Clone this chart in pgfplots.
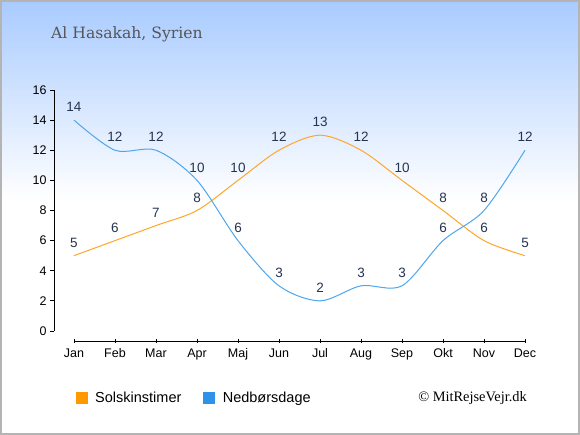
\documentclass[border=0pt]{standalone}
\usepackage{pgfplots}
\pgfplotsset{compat=1.18}
\usepackage{fontspec}
\setmainfont{Liberation Sans}
\newfontfamily\titlefont{DejaVu Serif}
\newfontfamily\copyfont{Liberation Serif}
\definecolor{bgtop}{RGB}{168,203,255}
\definecolor{sun}{RGB}{255,166,43}
\definecolor{sunsq}{RGB}{255,153,0}
\definecolor{rain}{RGB}{77,166,238}
\definecolor{rainsq}{RGB}{46,146,232}
\definecolor{lbl}{RGB}{37,52,80}
\definecolor{brd}{RGB}{180,180,180}
\definecolor{ttl}{RGB}{85,85,85}
\begin{document}
\begin{tikzpicture}[x=1bp,y=1bp]
\useasboundingbox (0,0) rectangle (580,435);
\fill[white] (0,0) rectangle (580,435);
\shade[top color=bgtop, bottom color=white] (0,235) rectangle (580,435);
\draw[brd, line width=2bp] (1,1) rectangle (579,434);
\node[anchor=base west, inner sep=0pt, font=\titlefont\fontsize{15.6bp}{18bp}\selectfont, text=ttl] at (51,396) {Al Hasakah, Syrien};
\node[anchor=base east, inner sep=0pt, font=\copyfont\fontsize{14.4bp}{16bp}\selectfont, text=black] at (527,33) {© MitRejseVejr.dk};
\begin{axis}[
  at={(74bp,104bp)}, anchor=south west, scale only axis,
  width=451bp, height=241bp,
  xmin=0, xmax=11, ymin=0, ymax=16,
  axis x line*=bottom, axis y line*=left,
  axis x line shift=10bp, axis y line shift=20bp,
  axis line style={black, line width=0.8bp},
  xtick={0,...,11},
  xticklabels={Jan,Feb,Mar,Apr,Maj,Jun,Jul,Aug,Sep,Okt,Nov,Dec},
  ytick={0,2,...,16},
  tick align=outside, major tick length=4bp,
  tick style={black, line width=0.8bp},
  xtick style={yshift=2bp},
  ticklabel style={font=\fontsize{12.5bp}{14bp}\selectfont},
  /pgf/number format/assume math mode=true,
  clip=false,
  nodes near coords,
  nodes near coords style={anchor=center, yshift=13bp, font=\fontsize{13.5bp}{16bp}\selectfont, text=lbl},
  legend image code/.code={\fill[#1] (0bp,-5.5bp) rectangle (11bp,5.5bp);},
  legend style={at={(0.004,-0.278)}, anchor=west, draw=none, fill=none, inner sep=0pt, outer sep=0pt,
    font=\fontsize{14.5bp}{16bp}\selectfont, legend columns=2,
    nodes={inner xsep=8bp},
    /tikz/every even column/.append style={column sep=14bp}},
  legend cell align=left,
]
\addplot[sun, line width=1bp, smooth, forget plot] coordinates {
 (0,5) (1,6) (2,7) (3,8) (4,10) (5,12) (6,13) (7,12) (8,10) (9,8) (10,6) (11,5)};
\addplot[rain, line width=1bp, smooth, forget plot] coordinates {
 (0,14) (1,12) (2,12) (3,10) (4,6) (5,3) (6,2) (7,3) (8,3) (9,6) (10,8) (11,12)};
\addlegendimage{sunsq}
\addlegendentry{Solskinstimer}
\addlegendimage{rainsq}
\addlegendentry{Nedbørsdage}
\end{axis}
\end{tikzpicture}
\end{document}
